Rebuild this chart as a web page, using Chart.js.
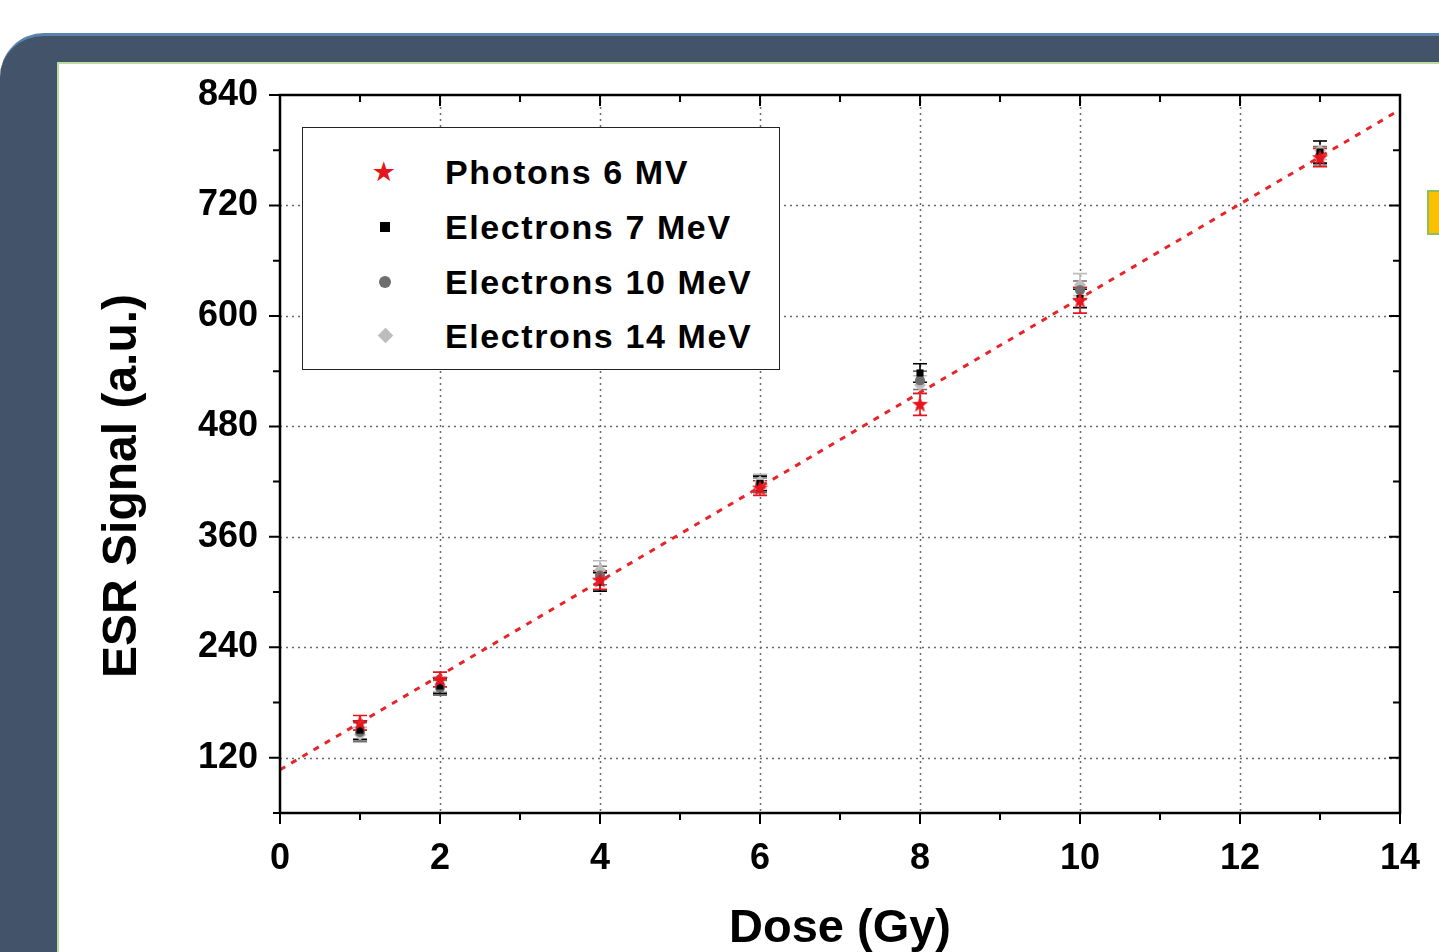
<!DOCTYPE html>
<html>
<head>
<meta charset="utf-8">
<script src="https://cdn.jsdelivr.net/npm/chart.js@4"></script>
<style>
  body { margin: 0; width: 1439px; height: 952px; overflow: hidden; background: #fff; position: relative; font-family: "Liberation Sans", Arial, sans-serif; }
  #frame { position: absolute; left: 0; top: 33px; width: 1500px; height: 1000px; background: #435369; border-top: 3px solid #5a84ae; border-top-left-radius: 44px; }
  #panel { position: absolute; left: 57px; top: 62px; width: 1400px; height: 900px; background: #fff; border-left: 2px solid #b9dca0; border-top: 2px solid #b9dca0; box-sizing: border-box; }
  #wrap { position: absolute; left: 57px; top: 62px; width: 1382px; height: 890px; }
  #ytitle { position: absolute; left: 120px; top: 486px; transform: translate(-50%, -50%) rotate(-90deg); white-space: nowrap; font-weight: bold; font-size: 48px; color: #000; line-height: 1; }
  #legend { position: absolute; left: 302px; top: 127px; width: 478px; height: 243px; border: 1.5px solid #222; background: #fff; box-sizing: border-box; }
  .row { position: absolute; left: 0; height: 40px; line-height: 40px; font-weight: bold; font-size: 34px; letter-spacing: 1.6px; color: #000; }
  .row span.txt { position: absolute; left: 142px; white-space: nowrap; }
  .mk { position: absolute; }
  #yellow { position: absolute; left: 1427px; top: 190px; width: 20px; height: 45px; background: #fdc000; border: 2px solid #8cc05c; box-sizing: border-box; }
</style>
</head>
<body>
<div id="frame"></div>
<div id="panel"></div>
<div id="wrap"><canvas id="chart" width="1382" height="890"></canvas></div>
<div id="ytitle">ESR Signal (a.u.)</div>
<div id="legend"></div>
<div id="yellow"></div>
<script>
// Data
const doses = [1, 2, 4, 6, 8, 10, 13];
const photons6MV = [158, 205, 313, 413, 504, 617, 772];
const photons6MVErr = [8, 8, 10, 8, 12, 14, 10];
const electrons7MeV = [150, 198, 311, 418, 538, 619, 778];
const electrons7MeVErr = [10, 8, 10, 8, 10, 10, 12];
const electrons10MeV = [148, 196, 318, 416, 530, 628, 774];
const electrons10MeVErr = [10, 8, 10, 8, 10, 10, 10];
const electrons14MeV = [145, 200, 324, 420, 525, 634, 780];
const electrons14MeVErr = [8, 8, 10, 8, 10, 12, 10];
const fitX = [0, 14];
const fitY = [107, 824];
const xTickValues = [0, 2, 4, 6, 8, 10, 12, 14];
const yTickValues = [120, 240, 360, 480, 600, 720, 840];
const seriesLabels = ['Photons 6 MV', 'Electrons 7 MeV', 'Electrons 10 MeV', 'Electrons 14 MeV'];

const colors = ['#e8141c', '#000000', '#6e6e6e', '#bdbdbd'];

function makeStar(size, color) {
    const c = document.createElement('canvas');
    c.width = c.height = size;
    const g = c.getContext('2d');
    g.fillStyle = color;
    g.beginPath();
    for (let i = 0; i < 10; i++) {
        const r = i % 2 ? size * 0.21 : size * 0.5;
        const a = -Math.PI / 2 + i * Math.PI / 5;
        const px = size / 2 + r * Math.cos(a);
        const py = size / 2 + 0.5 + r * Math.sin(a);
        if (i === 0) g.moveTo(px, py); else g.lineTo(px, py);
    }
    g.closePath();
    g.fill();
    return c;
}

const toPts = (ys) => doses.map((d, i) => ({ x: d, y: ys[i] }));

const series = [
    { label: seriesLabels[0], ys: photons6MV, err: photons6MVErr, color: colors[0], style: makeStar(17, colors[0]), radius: 8 },
    { label: seriesLabels[1], ys: electrons7MeV, err: electrons7MeVErr, color: colors[1], style: 'rect', radius: 5 },
    { label: seriesLabels[2], ys: electrons10MeV, err: electrons10MeVErr, color: colors[2], style: 'circle', radius: 5 },
    { label: seriesLabels[3], ys: electrons14MeV, err: electrons14MeVErr, color: colors[3], style: 'rectRot', radius: 6 }
];

// Grid, error bars, axis frame and tick marks
const framePlugin = {
    id: 'frame',
    beforeDatasetsDraw(chart) {
        const { ctx, chartArea: a, scales: { x, y } } = chart;
        ctx.save();
        ctx.strokeStyle = '#6a6a6a';
        ctx.lineWidth = 1.5;
        ctx.setLineDash([2, 4]);
        xTickValues.slice(1, -1).forEach(v => {
            const px = Math.round(x.getPixelForValue(v)) + 0.5;
            ctx.beginPath(); ctx.moveTo(px, a.top); ctx.lineTo(px, a.bottom); ctx.stroke();
        });
        yTickValues.slice(0, -1).forEach(v => {
            const py = Math.round(y.getPixelForValue(v)) + 0.5;
            ctx.beginPath(); ctx.moveTo(a.left, py); ctx.lineTo(a.right, py); ctx.stroke();
        });
        ctx.restore();

        ctx.save();
        ctx.lineWidth = 1.6;
        series.slice().reverse().forEach(s => {
            ctx.strokeStyle = s.color;
            doses.forEach((d, i) => {
                const px = x.getPixelForValue(d);
                const p1 = y.getPixelForValue(s.ys[i] + s.err[i]);
                const p2 = y.getPixelForValue(s.ys[i] - s.err[i]);
                ctx.beginPath();
                ctx.moveTo(px, p1); ctx.lineTo(px, p2);
                ctx.moveTo(px - 7, p1); ctx.lineTo(px + 7, p1);
                ctx.moveTo(px - 7, p2); ctx.lineTo(px + 7, p2);
                ctx.stroke();
            });
        });
        ctx.restore();
    },
    afterDraw(chart) {
        const { ctx, chartArea: a, scales: { x, y } } = chart;
        ctx.save();
        ctx.strokeStyle = '#000';
        ctx.lineWidth = 2.5;
        ctx.strokeRect(a.left, a.top, a.right - a.left, a.bottom - a.top);
        ctx.lineWidth = 2;
        for (let v = 0; v <= 14; v++) {
            const px = x.getPixelForValue(v);
            const len = v % 2 === 0 ? 11 : 7;
            ctx.beginPath();
            ctx.moveTo(px, a.bottom); ctx.lineTo(px, a.bottom + len);
            ctx.moveTo(px, a.top); ctx.lineTo(px, a.top + len);
            ctx.stroke();
        }
        for (let v = 60; v <= 840; v += 60) {
            const py = y.getPixelForValue(v);
            const len = v % 120 === 0 ? 11 : 7;
            ctx.beginPath();
            ctx.moveTo(a.left, py); ctx.lineTo(a.left - len, py);
            ctx.moveTo(a.right, py); ctx.lineTo(a.right - len, py);
            ctx.stroke();
        }
        ctx.restore();
    }
};

const datasets = [{
    type: 'line',
    label: 'fit',
    data: fitX.map((v, i) => ({ x: v, y: fitY[i] })),
    borderColor: '#e8242a',
    borderWidth: 3,
    borderDash: [6, 7],
    pointRadius: 0,
    fill: false,
    order: 0
}].concat(series.map((s, i) => ({
    label: s.label,
    data: toPts(s.ys),
    pointStyle: s.style,
    pointRadius: s.radius,
    backgroundColor: s.color,
    borderColor: s.color,
    borderWidth: 0,
    order: i + 1
})));

const tickFont = { family: '"Liberation Sans", Arial, sans-serif', weight: 'bold', size: 36 };
const titleFont = { family: '"Liberation Sans", Arial, sans-serif', weight: 'bold', size: 47 };

new Chart(document.getElementById('chart'), {
    type: 'scatter',
    data: { datasets },
    options: {
        responsive: false,
        animation: false,
        layout: { padding: { top: 33, right: 39, left: 0, bottom: 0 } },
        plugins: { legend: { display: false }, tooltip: { enabled: false } },
        scales: {
            x: {
                type: 'linear', min: 0, max: 14,
                afterBuildTicks: (s) => { s.ticks = xTickValues.map(v => ({ value: v })); },
                afterFit: (s) => { s.height = 139; s.paddingRight = 0; s.paddingLeft = 0; },
                ticks: { font: tickFont, color: '#000', padding: 24, maxRotation: 0 },
                grid: { display: false, drawTicks: false },
                border: { display: false },
                title: { display: true, text: 'Dose (Gy)', font: titleFont, color: '#000', padding: { top: 36, bottom: -5 } }
            },
            y: {
                type: 'linear', min: 60, max: 840,
                afterBuildTicks: (s) => { s.ticks = yTickValues.map(v => ({ value: v })); },
                afterFit: (s) => { s.width = 223; s.paddingTop = 0; s.paddingBottom = 0; },
                ticks: { font: tickFont, color: '#000', padding: 22 },
                grid: { display: false, drawTicks: false },
                border: { display: false }
            }
        }
    },
    plugins: [framePlugin]
});

// Legend (HTML overlay)
const legend = document.getElementById('legend');
const rowTops = [24, 79, 134, 188];
const markerHtml = [
    '<span class="mk" style="left:70px;top:0;color:' + colors[0] + ';font-size:24px;letter-spacing:0">&#9733;</span>',
    '<span class="mk" style="left:77px;top:15px;width:10px;height:10px;background:' + colors[1] + '"></span>',
    '<span class="mk" style="left:76px;top:14px;width:12px;height:12px;border-radius:50%;background:' + colors[2] + '"></span>',
    '<span class="mk" style="left:77px;top:14px;width:11px;height:11px;transform:rotate(45deg);background:' + colors[3] + '"></span>'
];
seriesLabels.forEach((lab, i) => {
    const row = document.createElement('div');
    row.className = 'row';
    row.style.top = rowTops[i] + 'px';
    row.style.width = '100%';
    row.innerHTML = markerHtml[i] + '<span class="txt">' + lab + '</span>';
    legend.appendChild(row);
});
</script>
</body>
</html>
